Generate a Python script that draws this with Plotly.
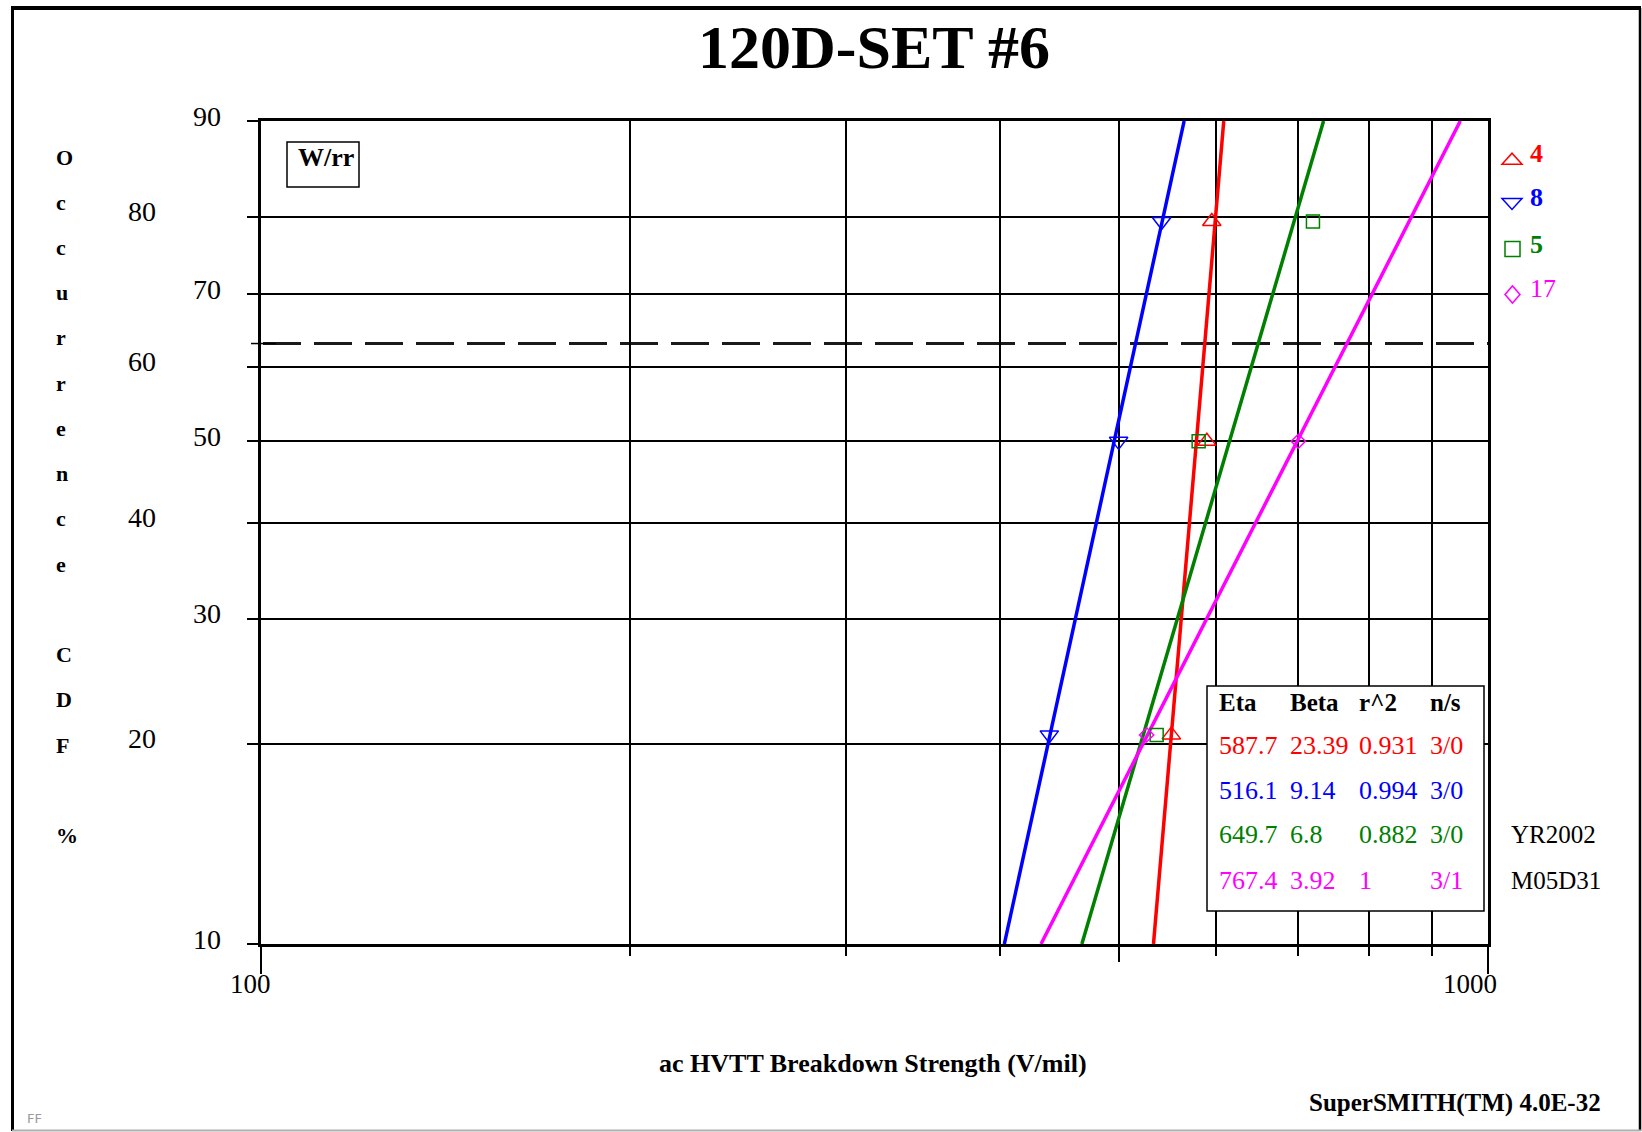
import numpy as np
import plotly.graph_objects as go

# ---------------- data ----------------
series_names = ["4", "8", "5", "17"]
series_colors = ["#FF0000", "#0000FF", "#008000", "#FF00FF"]
series_symbols = ["triangle-up-open", "triangle-down-open", "square-open", "diamond-open"]
series_marker_sizes = [16, 16, 13, 11]

# breakdown strength (V/mil) and median-rank CDF (%) of each failure
red_strength = [552.0, 590.0, 595.5]
red_cdf = [20.6, 50.0, 79.4]
blue_strength = [439.0, 500.0, 542.0]
blue_cdf = [20.6, 50.0, 79.4]
green_strength = [537.0, 581.0, 720.0]
green_cdf = [20.6, 50.0, 79.4]
magenta_strength = [527.0, 700.5]
magenta_cdf = [20.6, 50.0]

# Weibull fit results (rank regression)
eta = [587.7, 516.1, 649.7, 767.4]
beta = [23.39, 9.14, 6.8, 3.92]
r_squared = [0.931, 0.994, 0.882, 1]
n_over_s = ["3/0", "3/0", "3/0", "3/1"]

cdf_ticks = [10, 20, 30, 40, 50, 60, 70, 80, 90]
x_ticks_major = [100, 1000]
x_ticks_minor = [200, 300, 400, 500, 600, 700, 800, 900]
x_tick_mid = [500]

# ---------------- page geometry ----------------
W, H = 1642, 1132
PL, PR, PT, PB = 261, 1488, 121, 944
SERIF = "Liberation Serif"


def fx(px):
    return (px - PL) / (PR - PL)


def fy(py):
    return (PB - py) / (PB - PT)


def weibull_scale(cdf_pct):
    """Weibull probability-paper ordinate: ln(-ln(1-F))."""
    f = np.asarray(cdf_pct, dtype=float) / 100.0
    return np.log(-np.log(1.0 - f))


strengths = [red_strength, blue_strength, green_strength, magenta_strength]
cdfs = [red_cdf, blue_cdf, green_cdf, magenta_cdf]

fig = go.Figure()

# fitted Weibull lines across the plotted CDF range
y_lo, y_hi = weibull_scale([cdf_ticks[0], cdf_ticks[-1]])
for i in range(4):
    yy = np.array([y_lo, y_hi])
    xx = eta[i] * np.exp(yy / beta[i])
    fig.add_trace(go.Scatter(x=xx, y=yy, mode="lines",
                             line=dict(color=series_colors[i], width=3.5),
                             showlegend=False, hoverinfo="skip"))

# data points
for i in range(4):
    fig.add_trace(go.Scatter(
        x=strengths[i], y=weibull_scale(cdfs[i]), mode="markers",
        marker=dict(symbol=series_symbols[i], size=series_marker_sizes[i],
                    color=series_colors[i], line=dict(width=1.5, color=series_colors[i])),
        showlegend=False, hoverinfo="skip"))

# carrier trace for the medium-length tick axis
fig.add_trace(go.Scatter(x=[], y=[], xaxis="x3", yaxis="y", showlegend=False, hoverinfo="skip"))

annotations = []

# title
annotations.append(dict(text="<b>120D-SET #6</b>", x=fx(874), y=fy(47), xref="paper", yref="paper",
                        showarrow=False, font=dict(family=SERIF, size=62, color="black"),
                        xanchor="center", yanchor="middle"))

# stacked vertical axis caption
caption = "Occurrence CDF %"
for k, ch in enumerate(caption):
    if ch == " ":
        continue
    annotations.append(dict(text="<b>%s</b>" % ch, x=fx(54), y=fy(157 + k * 45.24),
                            xref="paper", yref="paper", showarrow=False,
                            font=dict(family=SERIF, size=22, color="black"),
                            xanchor="left", yanchor="middle"))

# CDF tick labels in two staggered columns
for k, v in enumerate(cdf_ticks):
    right_px = 223 if k % 2 == 0 else 158
    annotations.append(dict(text=str(v), x=fx(right_px), y=float(weibull_scale(v)),
                            xref="paper", yref="y", showarrow=False, yshift=5,
                            font=dict(family=SERIF, size=28, color="black"),
                            xanchor="right", yanchor="middle"))

# strength tick labels
for v, cx in zip(x_ticks_major, [250, 1470]):
    annotations.append(dict(text=str(v), x=fx(cx), y=fy(984), xref="paper", yref="paper",
                            showarrow=False, font=dict(family=SERIF, size=27, color="black"),
                            xanchor="center", yanchor="middle"))

# axis title and footer
annotations.append(dict(text="<b>ac HVTT Breakdown Strength (V/mil)</b>", x=fx(873), y=fy(1063),
                        xref="paper", yref="paper", showarrow=False,
                        font=dict(family=SERIF, size=26, color="black"),
                        xanchor="center", yanchor="middle"))
annotations.append(dict(text="<b>SuperSMITH(TM) 4.0E-32</b>", x=fx(1603), y=fy(1103),
                        xref="paper", yref="paper", showarrow=False,
                        font=dict(family=SERIF, size=25, color="black"),
                        xanchor="right", yanchor="middle"))
annotations.append(dict(text="FF", x=fx(25), y=fy(1118), xref="paper", yref="paper",
                        showarrow=False, font=dict(family="DejaVu Sans", size=13, color="#9a9a9a"),
                        xanchor="left", yanchor="middle"))

# method box label
annotations.append(dict(text="<b>W/rr</b>", x=fx(326), y=fy(157), xref="paper", yref="paper",
                        showarrow=False, font=dict(family=SERIF, size=26, color="black"),
                        xanchor="center", yanchor="middle"))

# legend numbers
legend_marker_y = [158.7, 204, 249, 294.5]
legend_text_y = [153, 197, 244, 288]
for i in range(4):
    annotations.append(dict(text=("<b>%s</b>" % series_names[i]) if i < 3 else series_names[i],
                            x=fx(1528), y=fy(legend_text_y[i]), xref="paper", yref="paper",
                            showarrow=False,
                            font=dict(family=SERIF, size=26, color=series_colors[i]),
                            xanchor="left", yanchor="middle"))

# results table
col_px = [1217, 1288, 1357, 1428]
headers = ["Eta", "Beta", "r^2", "n/s"]
for c, h in enumerate(headers):
    annotations.append(dict(text="<b>%s</b>" % h, x=fx(col_px[c]), y=fy(702), xref="paper",
                            yref="paper", showarrow=False,
                            font=dict(family=SERIF, size=25, color="black"),
                            xanchor="left", yanchor="middle"))
row_px = [745, 790, 834.5, 880.5]
for i in range(4):
    cells = ["%g" % eta[i], "%g" % beta[i], "%g" % r_squared[i], n_over_s[i]]
    for c, t in enumerate(cells):
        annotations.append(dict(text=t, x=fx(col_px[c]), y=fy(row_px[i]), xref="paper",
                                yref="paper", showarrow=False,
                                font=dict(family=SERIF, size=26, color=series_colors[i]),
                                xanchor="left", yanchor="middle"))
for t, py in zip(["YR2002", "M05D31"], [834.5, 880.5]):
    annotations.append(dict(text=t, x=fx(1509), y=fy(py), xref="paper", yref="paper",
                            showarrow=False, font=dict(family=SERIF, size=25, color="black"),
                            xanchor="left", yanchor="middle"))

# outline glyphs for the legend symbols (pixel offsets around an anchor)
legend_glyphs = [
    "M-10,-5.5 L10,-5.5 L0,5.5 Z",           # triangle up
    "M-10,5.5 L10,5.5 L0,-5.5 Z",            # triangle down
    "M-7.5,-7.5 L7.5,-7.5 L7.5,7.5 L-7.5,7.5 Z",  # square
    "M0,-8.5 L7.5,0 L0,8.5 L-7.5,0 Z",       # diamond
]
legend_glyph_x = [1512, 1512, 1512.5, 1512.5]

char_life = float(weibull_scale(100 * (1 - np.exp(-1))))
shapes = [
    # characteristic-life (63.2 %) reference line
    dict(type="line", xref="paper", yref="y", x0=fx(263), x1=1, y0=char_life, y1=char_life,
         line=dict(color="#1a1a1a", width=3, dash="38px,13px"), layer="between"),
    dict(type="line", xref="paper", yref="y", x0=fx(251), x1=fx(276), y0=char_life, y1=char_life,
         line=dict(color="black", width=1.5), layer="above"),
    # method box
    dict(type="rect", xref="paper", yref="paper", x0=fx(287), x1=fx(359), y0=fy(142), y1=fy(187),
         line=dict(color="black", width=1.5), fillcolor="white", layer="above"),
    # results table box
    dict(type="rect", xref="paper", yref="paper", x0=fx(1207), x1=fx(1484), y0=fy(686), y1=fy(911),
         line=dict(color="black", width=1.5), fillcolor="white", layer="above"),
    # page frame
    dict(type="line", xref="paper", yref="paper", x0=fx(11), x1=fx(1641), y0=fy(8), y1=fy(8),
         line=dict(color="black", width=4)),
    dict(type="line", xref="paper", yref="paper", x0=fx(12.5), x1=fx(12.5), y0=fy(8), y1=fy(1131),
         line=dict(color="black", width=3)),
    dict(type="line", xref="paper", yref="paper", x0=fx(1640), x1=fx(1640), y0=fy(8), y1=fy(1131),
         line=dict(color="black", width=2.5)),
    dict(type="line", xref="paper", yref="paper", x0=fx(12), x1=fx(1641), y0=fy(1130.5), y1=fy(1130.5),
         line=dict(color="#b0b0b0", width=2)),
]
for i in range(4):
    shapes.append(dict(type="path", xref="paper", yref="paper",
                       xsizemode="pixel", ysizemode="pixel",
                       xanchor=fx(legend_glyph_x[i]), yanchor=fy(legend_marker_y[i]),
                       path=legend_glyphs[i], line=dict(color=series_colors[i], width=1.5),
                       fillcolor="rgba(0,0,0,0)", layer="above"))

fig.update_layout(
    width=W, height=H,
    margin=dict(l=PL, r=W - PR, t=PT, b=H - PB, pad=0),
    paper_bgcolor="white", plot_bgcolor="white",
    font=dict(family=SERIF, color="black"),
    showlegend=False,
    xaxis=dict(type="log", range=[2, 3], tickmode="array", tickvals=x_ticks_major,
               ticks="outside", ticklen=27, tickwidth=1.5, tickcolor="black",
               showticklabels=False, showgrid=False, zeroline=False,
               showline=True, mirror=True, linecolor="black", linewidth=3,
               minor=dict(tickmode="array", tickvals=x_ticks_minor, ticks="outside",
                          ticklen=9, tickwidth=1.5, tickcolor="black",
                          showgrid=True, gridcolor="black", gridwidth=1.5)),
    xaxis3=dict(type="log", range=[2, 3], overlaying="x", anchor="y", side="bottom",
                tickmode="array", tickvals=x_tick_mid, ticks="outside", ticklen=17,
                tickwidth=1.5, tickcolor="black", showticklabels=False,
                showgrid=False, zeroline=False, showline=False),
    yaxis=dict(range=[float(y_lo), float(y_hi)], tickmode="array",
               tickvals=[float(v) for v in weibull_scale(cdf_ticks)],
               ticks="outside", ticklen=11, tickwidth=1.5, tickcolor="black",
               showticklabels=False, showgrid=True, gridcolor="black", gridwidth=1.5,
               zeroline=False, showline=True, mirror=True, linecolor="black", linewidth=3),
    annotations=annotations,
    shapes=shapes,
)

fig.write_html("out.html")
